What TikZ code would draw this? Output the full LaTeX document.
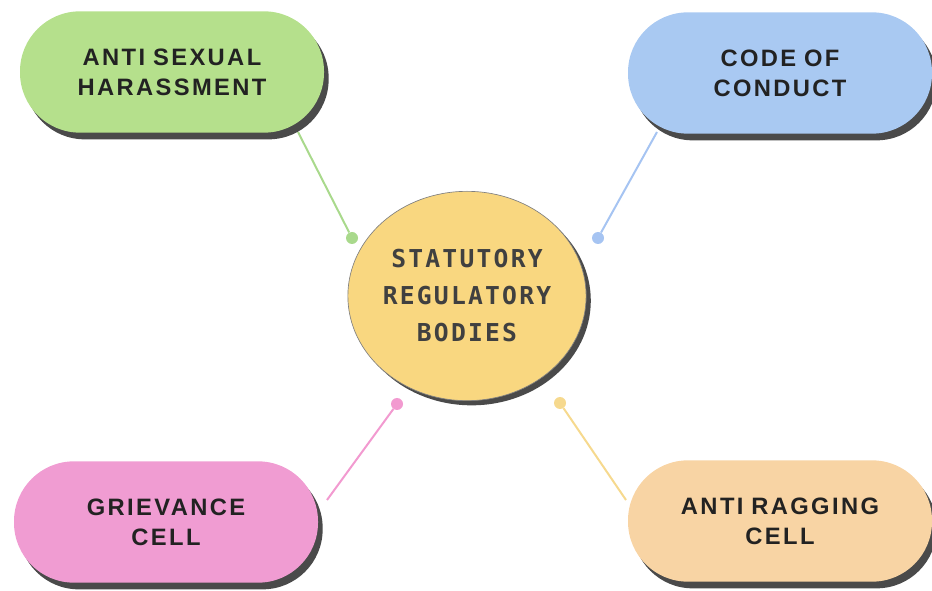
\documentclass[tikz,border=0pt]{standalone}
\usepackage{fontspec}
\usetikzlibrary{shadows,shapes.geometric}
\newfontfamily\pillfont[LetterSpace=10]{Liberation Sans}
\newfontfamily\centerfont[LetterSpace=9]{DejaVu Sans Mono}
\definecolor{pgreen}{HTML}{B5E08C}
\definecolor{pblue}{HTML}{A9C9F2}
\definecolor{ppink}{HTML}{F09CD2}
\definecolor{ppeach}{HTML}{F8D4A4}
\definecolor{pyellow}{HTML}{F9D780}
\definecolor{lgreen}{HTML}{A9D98C}
\definecolor{lblue}{HTML}{A6C4F2}
\definecolor{lpink}{HTML}{F29AD0}
\definecolor{lyellow}{HTML}{F6D98E}
\definecolor{shadowc}{HTML}{4A4A4A}
\definecolor{textc}{HTML}{222222}
\definecolor{ctextc}{HTML}{404040}
\begin{document}
\begin{tikzpicture}[x=0.75pt,y=-0.75pt,
  pill/.style={rectangle, rounded corners=45pt, minimum width=228pt, minimum height=91pt,
    inner sep=0pt, text width=210pt, align=center, text=textc,
    font=\pillfont\bfseries\fontsize{17.8}{22.5}\selectfont,
    drop shadow={shadow xshift=3.5pt, shadow yshift=-5pt, fill=shadowc, opacity=1}},
  hub/.style={ellipse, minimum width=168pt, minimum height=157pt, inner sep=0pt, fill=pyellow, draw=shadowc!70, line width=0.5pt,
    align=center, text=ctextc, font=\centerfont\bfseries\fontsize{18.5}{27.75}\selectfont,
    drop shadow={shadow xshift=3.5pt, shadow yshift=-3.5pt, fill=shadowc, opacity=1}},
  dot/.style={circle, inner sep=0pt, minimum size=9pt, fill=#1},
  conn/.style={line width=1.5pt}]
\useasboundingbox (0,0) rectangle (932,591);
% connector ends at the pills
\coordinate (tle) at (298,132);
\coordinate (tre) at (657,132);
\coordinate (ble) at (327,500);
\coordinate (bre) at (626,500);
% dots
\node[dot=lgreen] (tld) at (352,238) {};
\node[dot=lblue] (trd) at (598,238) {};
\node[dot=lpink] (bld) at (397,404) {};
\node[dot=lyellow] (brd) at (560,403) {};
\draw[conn, lgreen] (tle) -- (tld);
\draw[conn, lblue] (tre) -- (trd);
\draw[conn, lpink] (bld) -- (ble);
\draw[conn, lyellow] (brd) -- (bre);
% pills
\node[pill, fill=pgreen] (tl) at (172,72) {ANTI SEXUAL\\HARASSMENT};
\node[pill, fill=pblue] (tr) at (780,73) {CODE OF\\CONDUCT};
\node[pill, fill=ppink] (bl) at (166,522) {GRIEVANCE\\CELL};
\node[pill, fill=ppeach] (br) at (780,521) {ANTI RAGGING\\CELL};
% hub
\node[hub] (hub) at (467,296) {STATUTORY\\REGULATORY\\BODIES};
\end{tikzpicture}
\end{document}
